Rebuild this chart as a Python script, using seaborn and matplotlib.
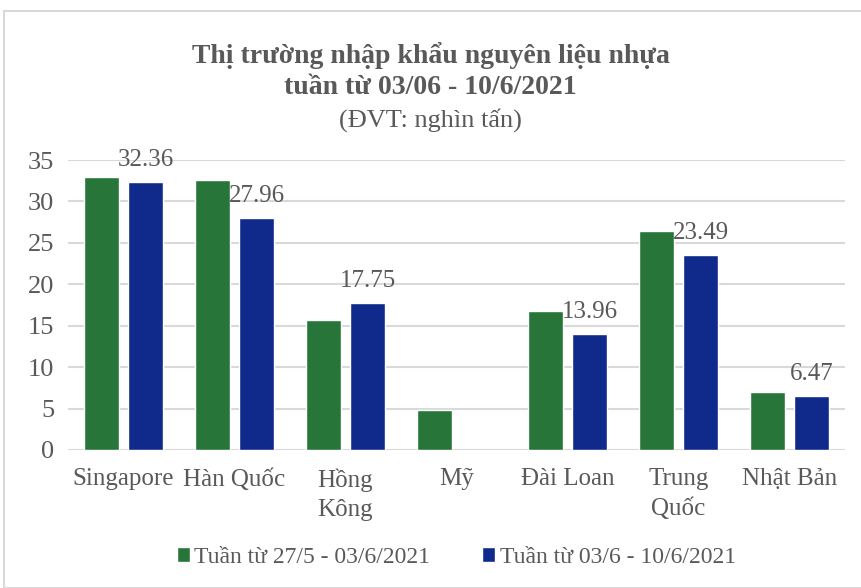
import numpy as np
import pandas as pd
import seaborn as sns
import matplotlib.pyplot as plt
from matplotlib.patches import Rectangle

# data (nghin tan)
markets = ["Singapore", "Hàn Quốc", "Hồng\nKông", "Mỹ", "Đài Loan", "Trung\nQuốc", "Nhật Bản"]
week_prev = [32.9, 32.6, 15.7, 4.8, 16.8, 26.4, 7.0]
week_curr = [32.36, 27.96, 17.75, np.nan, 13.96, 23.49, 6.47]
series_names = ["Tuần từ 27/5 - 03/6/2021", "Tuần từ 03/6 - 10/6/2021"]
y_ticks = [0, 5, 10, 15, 20, 25, 30, 35]

df = pd.DataFrame({
    "market": markets * 2,
    "value": week_prev + week_curr,
    "series": [series_names[0]] * len(markets) + [series_names[1]] * len(markets),
})

sns.set_style("white")
plt.rcParams["font.family"] = ["Liberation Serif", "DejaVu Serif"]
text_color = "#595959"

fig = plt.figure(figsize=(8.61, 5.88), dpi=100)
ax = fig.add_axes([68 / 861, 138 / 588, 777 / 861, 290 / 588])

sns.barplot(data=df, x="market", y="value", hue="series",
            palette=["#277539", "#102a8c"], saturation=1, gap=0.2, width=0.8,
            order=markets, hue_order=series_names, ax=ax, legend=True)

# value labels on the second series only (Mỹ has no bar, seaborn skips it)
shown = [v for v in week_curr if not np.isnan(v)]
for bar, v in zip(ax.containers[1], shown):
    ax.annotate(f"{v:.2f}", (bar.get_x() + bar.get_width() / 2, bar.get_height()),
                xytext=(0, 8), textcoords="offset points", ha="center", va="bottom",
                fontsize=18, color=text_color)

ax.set_ylim(0, 35)
ax.set_yticks(y_ticks)
ax.yaxis.grid(True, color="#d9d9d9", linewidth=1.5)
ax.set_axisbelow(True)
for s in ax.spines.values():
    s.set_visible(False)
ax.tick_params(axis="both", length=0, labelcolor=text_color)
ax.tick_params(axis="y", pad=10, labelsize=19)
ax.tick_params(axis="x", pad=13, labelsize=18)
for t in ax.get_xticklabels():
    t.set_linespacing(1.45)
ax.set_xlabel("")
ax.set_ylabel("")

leg = ax.legend(loc="lower center", bbox_to_anchor=(0.5, -0.48), ncol=2, frameon=False,
                fontsize=17, handlelength=0.55, handleheight=0.55, handletextpad=0.2,
                columnspacing=2.2, labelcolor=text_color)

fig.text(0.5, 1 - 55 / 588, "Thị trường nhập khẩu nguyên liệu nhựa",
         ha="center", va="center", fontsize=20, fontweight="bold", color=text_color)
fig.text(0.5, 1 - 88 / 588, "tuần từ 03/06 - 10/6/2021",
         ha="center", va="center", fontsize=20, fontweight="bold", color=text_color)
fig.text(0.5, 1 - 120 / 588, "(ĐVT: nghìn tấn)",
         ha="center", va="center", fontsize=19, color=text_color)

fig.patches.append(Rectangle((4 / 861, 0), 1.2, 1 - 11 / 588, transform=fig.transFigure,
                             fill=False, edgecolor="#d9d9d9", linewidth=1.5))

fig.savefig("out.png", dpi=100)
